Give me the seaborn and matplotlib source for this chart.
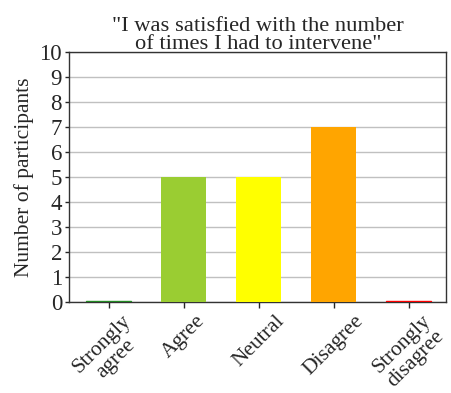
import matplotlib
matplotlib.use("Agg")
import matplotlib.pyplot as plt
import seaborn as sns
import pandas as pd

categories = ["Strongly\nagree", "Agree", "Neutral", "Disagree", "Strongly\ndisagree"]
values = [0, 5, 5, 7, 0]
colors = ["#228b22", "#9acd32", "#ffff00", "#ffa500", "#ff0000"]
title = "\"I was satisfied with the number\nof times I had to intervene\""

sns.set_style("white")
plt.rcParams['font.family'] = ['Liberation Serif', 'DejaVu Serif']

df = pd.DataFrame({"cat": categories, "val": values})
fig, ax = plt.subplots(figsize=(4.51, 3.93), dpi=100)
fig.subplots_adjust(left=0.153, right=0.99, top=0.868, bottom=0.232)
sns.barplot(data=df, x="cat", y="val", hue="cat", palette=colors, legend=False,
            width=0.6, ax=ax, saturation=1, zorder=3, linewidth=0)
for i, v in enumerate(values):
    if v == 0:
        ax.plot([i - 0.3, i + 0.3], [0.02, 0.02], color=colors[i], lw=1.0, zorder=4)
ax.set_ylim(0, 10)
ax.set_xlim(-0.53, 4.5)
ax.set_yticks(range(0, 11))
ax.yaxis.grid(True, color="#c0c0c0", lw=1, zorder=0)
ax.tick_params(axis="y", labelsize=16.5, length=3, width=1, pad=2, left=True)
ax.tick_params(axis="x", labelsize=15.5, length=4, width=1, bottom=True, pad=3)
plt.setp(ax.get_xticklabels(), rotation=45, ha="center", multialignment="center", linespacing=1.1)
ax.set_xlabel("")
ax.set_ylabel("Number of participants", fontsize=15.5, labelpad=4)
ax.set_title(title, fontsize=16.2, linespacing=0.95, pad=2)
for s in ax.spines.values():
    s.set_color("#333333")
    s.set_linewidth(1)
fig.savefig("out.png", dpi=100)
